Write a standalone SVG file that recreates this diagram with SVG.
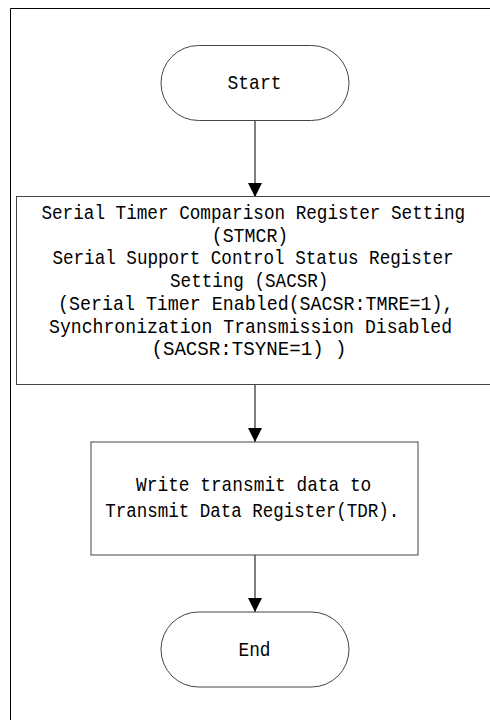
<svg xmlns="http://www.w3.org/2000/svg" width="490" height="720" viewBox="0 0 490 720">
<defs>
<style>
.frame{fill:none;stroke:#000;stroke-width:1}
.shape{fill:#fff;stroke:#444;stroke-width:1}
.conn{fill:none;stroke:#000;stroke-width:1}
text{font-family:"Liberation Mono","DejaVu Sans Mono",monospace;font-size:20px;fill:#000;text-anchor:middle}
</style>
<marker id="arrow" viewBox="0 0 14 14" refX="14" refY="7" markerWidth="14" markerHeight="14" markerUnits="userSpaceOnUse" orient="auto">
<path d="M0,0 L14,7 L0,14 Z" fill="#000"/>
</marker>
</defs>
<rect width="490" height="720" fill="#fff"/>
<path class="frame" d="M10.5,720 V8.5 H490"/>
<g id="connectors">
<line class="conn" x1="255" y1="121" x2="255" y2="197" marker-end="url(#arrow)"/>
<line class="conn" x1="255" y1="384" x2="255" y2="442" marker-end="url(#arrow)"/>
<line class="conn" x1="255" y1="555" x2="255" y2="612" marker-end="url(#arrow)"/>
</g>
<g id="start">
<rect class="shape" x="161" y="45.5" width="188" height="75" rx="37.5" ry="37.5"/>
<text transform="translate(254.5,89) scale(0.9,1)">Start</text>
</g>
<g id="settings">
<rect class="shape" x="16.5" y="196.5" width="474" height="188"/>
<text transform="translate(253.3,219) scale(0.883,1)">Serial Timer Comparison Register Setting</text>
<text transform="translate(250,241.7) scale(0.913,1)">(STMCR)</text>
<text transform="translate(253,264.4) scale(0.88,1)">Serial Support Control Status Register</text>
<text transform="translate(249.2,287.1) scale(0.88,1)">Setting (SACSR)</text>
<text transform="translate(255.7,309.8) scale(0.916,1)">(Serial Timer Enabled(SACSR:TMRE=1),</text>
<text transform="translate(250.5,332.5) scale(0.908,1)">Synchronization Transmission Disabled</text>
<text transform="translate(249,355.2) scale(0.957,1)">(SACSR:TSYNE=1) )</text>
</g>
<g id="write">
<rect class="shape" x="91" y="442" width="327" height="113"/>
<text transform="translate(253.7,491) scale(0.891,1)">Write transmit data to</text>
<text transform="translate(252.2,517) scale(0.875,1)">Transmit Data Register(TDR).</text>
</g>
<g id="end">
<rect class="shape" x="161" y="612" width="188" height="75" rx="37.5" ry="37.5"/>
<text transform="translate(254.5,656) scale(0.891,1)">End</text>
</g>
</svg>
